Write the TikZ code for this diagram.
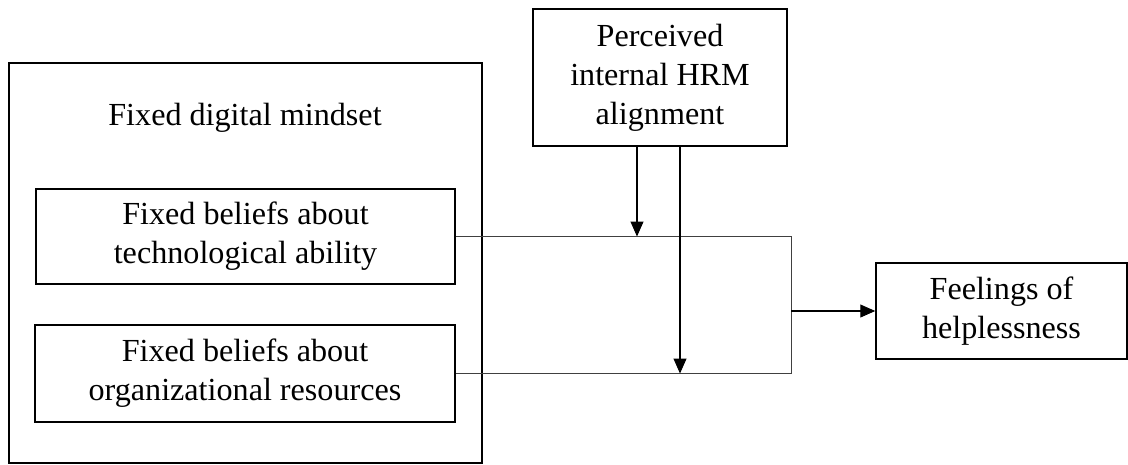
\documentclass[tikz,border=0pt]{standalone}
\usepackage{fontspec}
\setmainfont{Liberation Serif}
\usetikzlibrary{arrows.meta, positioning}

\begin{document}
\begin{tikzpicture}[
    x=0.02cm, y=-0.02cm,
    font=\fontsize{18.3}{22.2}\selectfont,
    box/.style={rectangle, draw, line width=0.9pt, align=center, inner sep=2pt},
    link/.style={draw=black!75, line width=0.5pt},
    arrow/.style={-{Triangle[length=0.3cm, width=0.26cm]}, line width=0.6pt}
]
\useasboundingbox (0,0) rectangle (1128,464);

\node[box, minimum width=9.46cm, minimum height=8cm] (mindset) at (245.5,263) {};
\node (title) at (245,118) {Fixed digital mindset};
\node[box, minimum width=8.38cm, minimum height=1.9cm] (tech) at (245.5,236.5) {Fixed beliefs about\\technological ability};
\node[box, minimum width=8.4cm, minimum height=1.94cm] (org) at (245,373.5) {Fixed beliefs about\\organizational resources};
\node[box, minimum width=5.08cm, minimum height=2.74cm] (hrm) at (660,77.5) {Perceived\\internal HRM\\alignment};
\node[box, minimum width=5.02cm, minimum height=1.92cm] (help) at (1001.5,311) {Feelings of\\helplessness};

\coordinate (join) at (791,311);

\draw[link] (tech.east) -- (tech.east -| join) -- (org.east -| join) -- (org.east);
\draw[arrow] (join) -- (help);
\draw[arrow] (hrm.south -| 637,0) -- (tech.east -| 637,0);
\draw[arrow] (hrm.south -| 680,0) -- (org.east -| 680,0);

\end{tikzpicture}
\end{document}
